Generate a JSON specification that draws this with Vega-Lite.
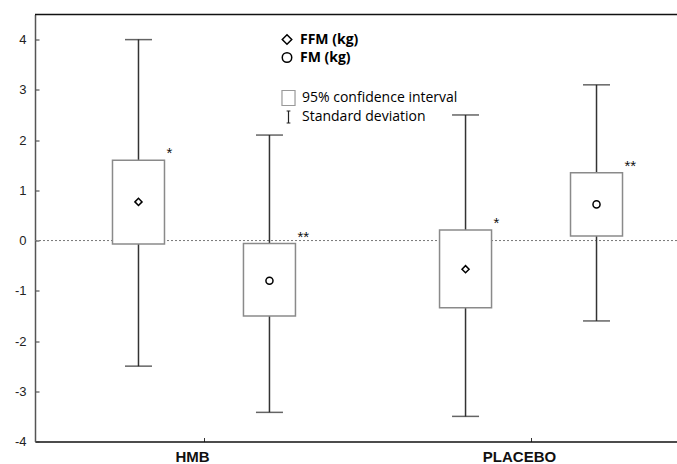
{
  "$schema": "https://vega.github.io/schema/vega-lite/v6.json",
  "width": 642,
  "height": 427,
  "autosize": {"type": "none"},
  "padding": {"left": 35, "top": 14.5, "right": 0, "bottom": 22.5},
  "background": "white",
  "config": {
    "view": {"stroke": null},
    "axisX": {"domainColor": "#111", "domainWidth": 1.5, "tickColor": "#333", "tickSize": -4, "tickWidth": 1, "labelFont": "Liberation Sans", "labelFontSize": 15, "labelFontWeight": "bold", "labelColor": "#111", "labelPadding": 12, "labelAngle": 0, "bandPosition": 0.537, "grid": false},
    "axisY": {"domainColor": "#555", "domainWidth": 1.5, "tickColor": "#333", "tickSize": -4, "tickWidth": 1, "labelFont": "Liberation Sans", "labelFontSize": 13, "labelColor": "#222", "labelPadding": 13, "grid": false}
  },
  "resolve": {"scale": {"shape": "independent", "stroke": "independent"}, "legend": {"shape": "independent", "stroke": "independent"}},
  "data": {
    "values": [
      {"group": "HMB", "measure": "FFM (kg)", "mean": 0.77, "ci_lo": -0.07, "ci_hi": 1.6, "sd_lo": -2.5, "sd_hi": 4.0, "sig": "*"},
      {"group": "HMB", "measure": "FM (kg)", "mean": -0.8, "ci_lo": -1.5, "ci_hi": -0.06, "sd_lo": -3.42, "sd_hi": 2.1, "sig": "**"},
      {"group": "PLACEBO", "measure": "FFM (kg)", "mean": -0.57, "ci_lo": -1.34, "ci_hi": 0.21, "sd_lo": -3.5, "sd_hi": 2.5, "sig": "*"},
      {"group": "PLACEBO", "measure": "FM (kg)", "mean": 0.72, "ci_lo": 0.09, "ci_hi": 1.35, "sd_lo": -1.6, "sd_hi": 3.1, "sig": "**"}
    ]
  },
  "layer": [
    {
      "data": {"values": [{}]},
      "mark": {"type": "rule", "color": "#777", "strokeDash": [2, 2], "strokeWidth": 1},
      "encoding": {
        "y": {"datum": 0, "type": "quantitative", "scale": {"domain": [-4, 4.5], "nice": false, "zero": false}, "title": null, "axis": {"values": [-4, -3, -2, -1, 0, 1, 2, 3, 4], "labelExpr": "datum.value < 0 ? '-' + abs(datum.value) : '' + datum.value"}}
      }
    },
    {
      "mark": {"type": "rule", "color": "#333", "strokeWidth": 1.5},
      "encoding": {
        "x": {"field": "group", "type": "nominal", "title": null, "scale": {"type": "band", "domain": ["HMB", "PLACEBO"], "paddingInner": 0.037, "paddingOuter": 0}},
        "xOffset": {"field": "measure", "type": "nominal", "scale": {"domain": ["FFM (kg)", "FM (kg)"], "paddingInner": 0, "paddingOuter": 0.2023, "align": 0.717}},
        "y": {"field": "sd_lo", "type": "quantitative", "title": null},
        "y2": {"field": "sd_hi"}
      }
    },
    {
      "mark": {"type": "tick", "orient": "horizontal", "size": 27, "thickness": 1.5, "color": "#222"},
      "encoding": {
        "x": {"field": "group", "type": "nominal", "title": null},
        "xOffset": {"field": "measure", "type": "nominal"},
        "y": {"field": "sd_hi", "type": "quantitative", "title": null}
      }
    },
    {
      "mark": {"type": "tick", "orient": "horizontal", "size": 27, "thickness": 1.5, "color": "#222"},
      "encoding": {
        "x": {"field": "group", "type": "nominal", "title": null},
        "xOffset": {"field": "measure", "type": "nominal"},
        "y": {"field": "sd_lo", "type": "quantitative", "title": null}
      }
    },
    {
      "mark": {"type": "bar", "width": 52, "fill": "white", "stroke": "#8a8a8a", "strokeWidth": 1.5},
      "encoding": {
        "x": {"field": "group", "type": "nominal", "title": null},
        "xOffset": {"field": "measure", "type": "nominal"},
        "y": {"field": "ci_lo", "type": "quantitative", "title": null},
        "y2": {"field": "ci_hi"}
      }
    },
    {
      "mark": {"type": "point", "filled": true, "fill": "white", "stroke": "black", "strokeWidth": 1.5, "size": 50, "opacity": 1},
      "encoding": {
        "x": {"field": "group", "type": "nominal", "title": null},
        "xOffset": {"field": "measure", "type": "nominal"},
        "y": {"field": "mean", "type": "quantitative", "title": null},
        "shape": {
          "field": "measure", "type": "nominal",
          "scale": {"domain": ["FFM (kg)", "FM (kg)"], "range": ["diamond", "circle"]},
          "legend": {
            "title": null, "orient": "none", "legendX": 245, "legendY": 18, "padding": 0,
            "symbolSize": 90,
            "labelFont": "Open Sans", "labelFontSize": 14, "labelFontWeight": "bold", "labelColor": "black", "labelOffset": 6, "rowPadding": 2,
            "encode": {
              "symbols": {
                "stroke": {"value": "black"},
                "fill": {"value": "white"},
                "strokeWidth": {"value": 1.3},
                "opacity": {"value": 1}
              }
            }
          }
        }
      }
    },
    {
      "data": {"values": []},
      "mark": {"type": "point", "filled": false, "strokeWidth": 1.2, "opacity": 1},
      "encoding": {
        "shape": {
          "field": "item", "type": "nominal",
          "scale": {"domain": ["95% confidence interval", "Standard deviation"], "range": ["M-0.87,-1H0.87V1H-0.87Z", "M-0.25,-0.8H0.25M0,-0.8V0.8M-0.25,0.8H0.25"]},
          "legend": {
            "title": null, "orient": "none", "legendX": 245, "legendY": 75, "padding": 0,
            "symbolSize": 225, "symbolStrokeWidth": 1.2,
            "labelFont": "Open Sans", "labelFontSize": 14, "labelColor": "black", "labelOffset": 5, "rowPadding": 0
          }
        },
        "stroke": {
          "field": "item", "type": "nominal",
          "scale": {"domain": ["95% confidence interval", "Standard deviation"], "range": ["#999999", "#222222"]},
          "legend": {
            "title": null, "orient": "none", "legendX": 245, "legendY": 75, "padding": 0,
            "symbolSize": 225, "symbolStrokeWidth": 1.2,
            "labelFont": "Open Sans", "labelFontSize": 14, "labelColor": "black", "labelOffset": 5, "rowPadding": 0
          }
        }
      }
    },
    {
      "mark": {"type": "text", "align": "left", "baseline": "alphabetic", "dx": 28, "dy": -2, "font": "Liberation Sans", "fontSize": 15, "color": "#111"},
      "encoding": {
        "x": {"field": "group", "type": "nominal", "title": null},
        "xOffset": {"field": "measure", "type": "nominal"},
        "y": {"field": "ci_hi", "type": "quantitative", "title": null},
        "text": {"field": "sig"}
      }
    },
    {
      "data": {"values": [{}]},
      "mark": {"type": "rule", "color": "#111", "strokeWidth": 1.5},
      "encoding": {
        "y": {"datum": 4.5, "type": "quantitative", "title": null}
      }
    }
  ]
}
